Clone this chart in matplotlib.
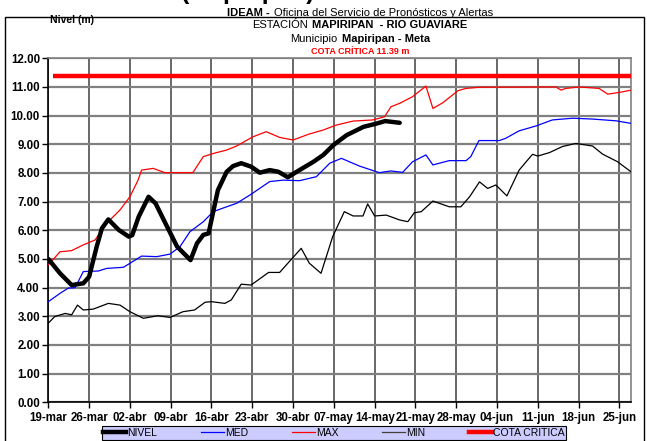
import matplotlib
matplotlib.use("Agg")
import matplotlib.pyplot as plt
from matplotlib.offsetbox import TextArea, HPacker, AnnotationBbox
from matplotlib.lines import Line2D
from matplotlib.patches import Rectangle

plt.rcParams['font.family'] = ['Liberation Sans', 'DejaVu Sans']

# =================================================
# DATA (dias contados desde 19-mar)
# =================================================
tick_days = [0, 7, 14, 21, 28, 35, 42, 49, 56, 63, 70, 77, 84, 91, 98]
tick_labels = ["19-mar", "26-mar", "02-abr", "09-abr", "16-abr", "23-abr", "30-abr",
               "07-may", "14-may", "21-may", "28-may", "04-jun", "11-jun", "18-jun", "25-jun"]

nivel_dias = [0, 2, 4, 6, 7, 8.3, 9.2, 10.3, 12.1, 13.8, 14.4, 15.5, 17.2, 18.4, 20.4,
              22.1, 24.4, 25.5, 26.6, 27.5, 28.3, 29.1, 30.6, 31.7, 33.1, 34.8, 36.3,
              38, 39.5, 41.1, 43.1, 45.5, 47.2, 48.9, 51.2, 54.1, 56.1, 57.8, 60.3]
nivel = [5.0, 4.5, 4.09, 4.15, 4.38, 5.43, 6.07, 6.38, 6.01, 5.78, 5.83, 6.47, 7.17,
         6.94, 6.12, 5.43, 4.96, 5.54, 5.84, 5.89, 6.65, 7.40, 8.04, 8.24, 8.34, 8.22,
         8.01, 8.10, 8.04, 7.85, 8.10, 8.39, 8.63, 8.97, 9.32, 9.61, 9.71, 9.81, 9.75]

med_dias = [0, 2, 3.4, 4.6, 6, 8.6, 10, 12.9, 16, 18.6, 20.9, 22.6, 24.3, 26.6, 28.3,
            30.6, 32.3, 34.6, 38, 40.3, 43.1, 46, 48.3, 50.3, 53.4, 56.8, 58.8, 60.8,
            62.5, 64.8, 66, 68.8, 71.7, 72.5, 73.9, 77.4, 78.5, 80.8, 83.7, 86.5, 90,
            93.4, 97.4, 100]
med = [3.51, 3.80, 3.98, 4.0, 4.56, 4.58, 4.67, 4.71, 5.10, 5.08, 5.17, 5.43, 5.95,
       6.30, 6.65, 6.82, 6.94, 7.23, 7.70, 7.75, 7.73, 7.87, 8.34, 8.51, 8.24, 8.01,
       8.07, 8.02, 8.39, 8.63, 8.28, 8.43, 8.43, 8.57, 9.13, 9.13, 9.21, 9.47, 9.64,
       9.85, 9.91, 9.88, 9.82, 9.73]

max_dias = [0, 2, 4, 6, 8, 10, 12.3, 14, 15.4, 16, 18, 20, 22.6, 24.8, 26.6, 28.3,
            30.6, 32.3, 35.1, 37.4, 39.7, 42, 44.8, 47.2, 49.4, 52.3, 55.7, 57.7, 58.8,
            60.3, 62.5, 64.8, 66, 67.7, 70.3, 71.7, 74, 87.1, 88, 88.8, 91.1, 94.5,
            96, 98, 100]
maxi = [4.79, 5.25, 5.29, 5.49, 5.66, 6.24, 6.71, 7.17, 7.75, 8.10, 8.16, 8.01, 8.01,
        8.01, 8.57, 8.68, 8.80, 8.94, 9.26, 9.44, 9.24, 9.15, 9.36, 9.50, 9.67, 9.81,
        9.85, 9.96, 10.31, 10.43, 10.66, 11.03, 10.25, 10.45, 10.87, 10.95, 10.99,
        11.0, 10.89, 10.95, 11.0, 10.95, 10.75, 10.81, 10.89]

min_dias = [0, 1.1, 2.9, 4, 5, 6, 7.7, 10.3, 12.3, 14, 16.3, 18.8, 20.9, 23.1, 25.1,
            26.9, 28, 30.3, 31.4, 33.1, 34.8, 37.8, 39.7, 41.1, 43.4, 44.8, 46.8, 48.8,
            50.8, 52.3, 54, 54.8, 56, 58, 60.3, 61.7, 62.8, 64, 66, 68.8, 70.8, 72.3,
            74, 75.4, 76.8, 78.7, 80.8, 82, 83.1, 84, 86, 88.2, 90.5, 93.4, 95.1, 97.7,
            100]
mini = [2.76, 2.99, 3.10, 3.05, 3.39, 3.22, 3.25, 3.45, 3.39, 3.16, 2.93, 3.02, 2.96,
        3.16, 3.22, 3.49, 3.51, 3.45, 3.57, 4.12, 4.09, 4.53, 4.53, 4.85, 5.37, 4.85,
        4.50, 5.78, 6.65, 6.50, 6.50, 6.92, 6.50, 6.53, 6.36, 6.30, 6.61, 6.65, 7.02,
        6.82, 6.82, 7.17, 7.69, 7.46, 7.58, 7.20, 8.10, 8.39, 8.65, 8.59, 8.71, 8.92,
        9.03, 8.94, 8.66, 8.39, 8.04]

cota_dias = [0.8, 100]
cota_critica = 11.39

# =================================================
# FIGURE
# =================================================
fig = plt.figure(figsize=(6.47, 4.41), dpi=100)
ax = fig.add_axes([0.0747, 0.0878, 0.9006, 0.78])

ax.plot(med_dias, med, color="#0000ff", lw=0.9, zorder=3)
ax.plot(max_dias, maxi, color="#ff0000", lw=0.9, zorder=3)
ax.plot(min_dias, mini, color="#000000", lw=0.9, zorder=3)
ax.plot(cota_dias, [cota_critica] * len(cota_dias), color="#ff0000", lw=3.2,
        solid_capstyle="butt", zorder=4)
ax.plot(nivel_dias, nivel, color="#000000", lw=3.2, solid_joinstyle="round",
        solid_capstyle="round", zorder=5)

ax.set_xlim(0, 100)
ax.set_ylim(0, 12)
ax.set_yticks(range(13))
ax.set_yticklabels([f"{v:.2f}" for v in range(13)])
ax.set_xticks(tick_days)
ax.set_xticklabels(tick_labels)
for lbl in ax.get_xticklabels() + ax.get_yticklabels():
    lbl.set_fontweight("bold")
    lbl.set_fontsize(8.3)

ax.set_axisbelow(True)
ax.grid(axis="y", color="#808080", lw=1.6)
ax.grid(axis="x", color="#404040", lw=1.1)
ax.tick_params(axis="both", direction="out", length=4, width=1, color="black", pad=2)
ax.tick_params(axis="x", pad=3)
for s in ["top", "right"]:
    ax.spines[s].set_color("#808080")
    ax.spines[s].set_linewidth(1.2)
for s in ["left", "bottom"]:
    ax.spines[s].set_color("black")
    ax.spines[s].set_linewidth(1.2)

# =================================================
# TITULOS
# =================================================
def title_row(parts, y, size=8):
    boxes = [TextArea(t, textprops=dict(fontsize=size, fontweight=w, color=c))
             for t, w, c in parts]
    row = HPacker(children=boxes, align="baseline", pad=0, sep=3)
    ab = AnnotationBbox(row, (360 / 647, 1 - y / 441), xycoords="figure fraction",
                        frameon=False, box_alignment=(0.5, 0.5))
    fig.add_artist(ab)

title_row([("IDEAM -", "bold", "black"),
           ("Oficina del Servicio de Pronósticos y Alertas", "normal", "black")], 12.5)
title_row([("ESTACIÓN", "normal", "black"),
           ("MAPIRIPAN  - RIO GUAVIARE", "bold", "black")], 25.5)
title_row([("Municipio", "normal", "black"),
           ("Mapiripan - Meta", "bold", "black")], 38.5)
title_row([("COTA CRÍTICA 11.39 m", "bold", "#ff0000")], 51, size=6.5)

fig.text(72 / 647, 1 - 20 / 441, "Nivel (m)", fontsize=7.5, fontweight="bold",
         ha="center", va="center")

# titulo cortado en la parte superior (solo se ve la parte baja)
fig.text(248 / 647, 1 + 1 / 441, "(Mapiripan)", fontsize=18, fontweight="bold",
         ha="center", va="baseline")

# marco exterior
fig.patches.append(Rectangle((5 / 647, -0.01), 639 / 647, (441 - 17) / 441 + 0.01,
                             transform=fig.transFigure, fill=False,
                             edgecolor="black", lw=1))

# =================================================
# LEYENDA
# =================================================
handles = [Line2D([], [], color="black", lw=3.2),
           Line2D([], [], color="#0000ff", lw=0.9),
           Line2D([], [], color="#ff0000", lw=0.9),
           Line2D([], [], color="#404040", lw=0.9),
           Line2D([], [], color="#ff0000", lw=3.2)]
labels = ["NIVEL", "MED", "MAX", "MIN", "COTA CRITICA"]
leg = fig.legend(handles, labels, loc="center", bbox_to_anchor=(334 / 647, 1 - 433 / 441),
                 ncol=5, fontsize=7.5, frameon=True, fancybox=False, edgecolor="black",
                 facecolor="#ccccff", framealpha=1, handlelength=2.2, handletextpad=0.1,
                 columnspacing=4.2, borderpad=0.15)
leg.get_frame().set_linewidth(0.8)

fig.savefig("out.png", dpi=100)
